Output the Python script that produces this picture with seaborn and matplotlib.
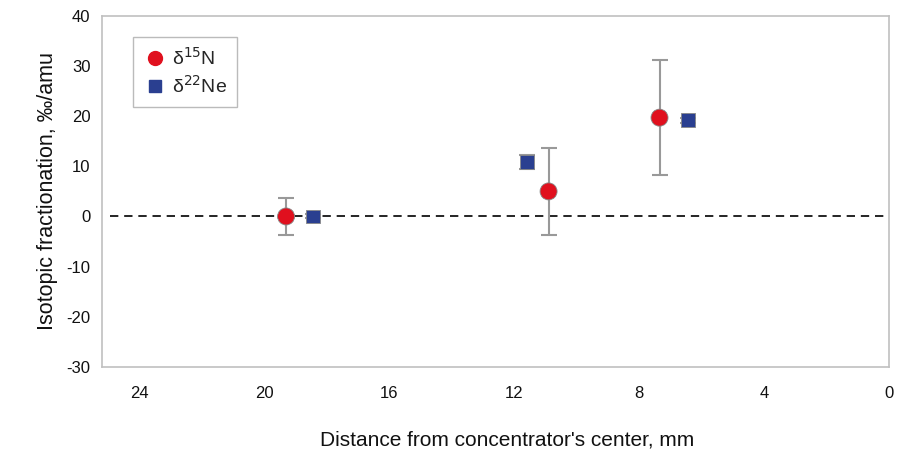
import matplotlib
matplotlib.use("Agg")
import matplotlib.pyplot as plt
import seaborn as sns
import pandas as pd
from matplotlib.lines import Line2D

sns.set_theme(style="white")
plt.rcParams['font.family'] = ['Liberation Sans', 'DejaVu Sans']

# Data
n_dist = [19.3, 10.9, 7.35]
n_val = [0.0, 5.0, 19.7]
n_err = [3.7, 8.6, 11.4]
ne_dist = [18.45, 11.6, 6.45]
ne_val = [0.0, 10.8, 19.2]
ne_err = [0.4, 1.4, 0.5]
x_ticks = [24, 20, 16, 12, 8, 4, 0]
y_ticks = [-30, -20, -10, 0, 10, 20, 30, 40]

df = pd.DataFrame({
    "dist": n_dist + ne_dist,
    "val": n_val + ne_val,
    "err": n_err + ne_err,
    "species": ["N"] * len(n_dist) + ["Ne"] * len(ne_dist),
})

fig = plt.figure(figsize=(9, 4.53), dpi=100)
ax = fig.add_axes([0.113, 0.19, 0.875, 0.775])

ax.axhline(0, color="black", lw=1.2, ls=(0, (5, 3.5)), zorder=1, xmin=0.01)

ax.errorbar(df["dist"], df["val"], yerr=df["err"], fmt="none",
            ecolor="#999999", elinewidth=1.5, capsize=6, capthick=1.5, zorder=2)

sns.scatterplot(data=df, x="dist", y="val", hue="species", style="species",
                markers={"N": "o", "Ne": "s"},
                palette={"N": "#e0101e", "Ne": "#2a3f90"},
                size="species", sizes={"N": 150, "Ne": 100},
                edgecolor="#888888", linewidth=0.6, legend=False, ax=ax, zorder=3)

ax.set_xlim(25.2, 0)
ax.set_ylim(-30, 40)
ax.set_xticks(x_ticks)
ax.set_xticklabels([str(t) for t in x_ticks])
ax.set_yticks(y_ticks)
ax.set_yticklabels([str(t) for t in y_ticks])

for s in ax.spines.values():
    s.set_color("#c0c0c0")
    s.set_linewidth(1.2)
ax.tick_params(axis="both", direction="out", length=5, width=1, color="#c0c0c0",
               labelsize=12, labelcolor="#111111", pad=3)
ax.tick_params(axis="x", pad=9)

ax.set_xlabel("Distance from concentrator's center, mm", fontsize=15, color="#111111")
ax.xaxis.set_label_coords(0.515, -0.18)
ax.set_ylabel("Isotopic fractionation, ‰/amu", fontsize=15.5, labelpad=6, color="#111111")

handles = [
    Line2D([], [], marker="o", ls="none", markersize=10, markerfacecolor="#e0101e",
           markeredgecolor="#e0101e", label=r"δ$^{15}$N"),
    Line2D([], [], marker="s", ls="none", markersize=8, markerfacecolor="#2a3f90",
           markeredgecolor="#2a3f90", label=r"δ$^{22}$Ne"),
]
leg = ax.legend(handles=handles, loc="upper left", bbox_to_anchor=(0.04, 0.94),
                fontsize=14, frameon=True, fancybox=False, edgecolor="#aaaaaa",
                handletextpad=0.3, borderpad=0.5, labelspacing=0.35, handlelength=1.2,
                borderaxespad=0)
leg.get_frame().set_linewidth(1.0)

fig.savefig("out.png", dpi=100)
